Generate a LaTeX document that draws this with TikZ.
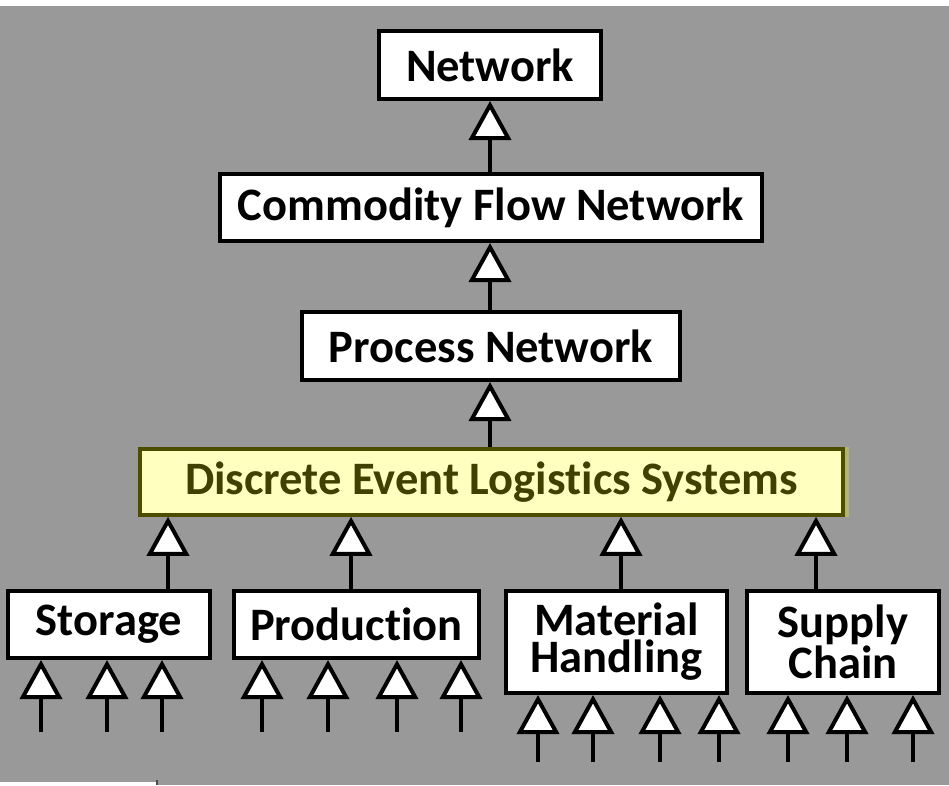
\documentclass[tikz,border=0pt]{standalone}
\usepackage{fontspec}
\setmainfont[Ligatures=NoCommon]{Carlito}
\usetikzlibrary{arrows.meta}
\definecolor{bggray}{HTML}{999999}
\definecolor{delsfill}{HTML}{FFFFC0}
\definecolor{delsline}{HTML}{4D4D00}
\definecolor{delsedge}{HTML}{B4B46E}
\definecolor{delstext}{HTML}{404000}
\begin{document}
\begin{tikzpicture}[x=1pt,y=-1pt,
  box/.style={draw=black, fill=white, line width=4pt, inner sep=0pt,
    align=center, font=\bfseries\fontsize{46.5}{37}\selectfont},
  conn/.style={line width=4pt,
    -{Triangle[width=42pt,length=39pt,fill=white,line width=4pt]}}]
% canvas
\useasboundingbox (0,0) rectangle (949,785);
\fill[white] (0,0) rectangle (949,785);
\fill[bggray] (0,6) rectangle (949,785);
\fill[white] (0,781.5) rectangle (156,784.5);
\draw[line width=1.2pt, black!70] (157,780) -- (157,785);

% hierarchy boxes
\node[box, minimum width=222pt, minimum height=68pt] (net) at (490,65) {Network};
\node[box, minimum width=542pt, minimum height=67pt] (cfn) at (491,207.5) {Commodity Flow Network};
\node[box, minimum width=378pt, minimum height=68pt] (pn) at (491,346) {Process Network};
\fill[delsedge] (844,447) rectangle (849,517);
\node[box, draw=delsline, fill=delsfill, text=delstext, line width=3.5pt,
  minimum width=703pt, minimum height=66pt] (dels) at (491.5,482) {Discrete Event Logistics Systems};

% subclass boxes
\node[box, minimum width=202pt, minimum height=67pt] (stor) at (109,624.5) {Storage};
\node[box, minimum width=245pt, minimum height=67pt] (prod) at (356.5,624.5) {Production};
\node[box, minimum width=221pt, minimum height=102pt] (mh) at (616.5,642) {Material\\Handling};
\node[box, minimum width=192pt, minimum height=102pt] (sc) at (843,642) {Supply\\Chain};

% generalisation arrows along the spine
\draw[conn] (cfn.north -| 490,0) -- (net.south -| 490,0);
\draw[conn] (pn.north -| 490,0) -- (cfn.south -| 490,0);
\draw[conn] (dels.north -| 490,0) -- (pn.south -| 490,0);

% subclasses to DELS
\draw[conn] (stor.north -| 168,0) -- (dels.south -| 168,0);
\draw[conn] (prod.north -| 351,0) -- (dels.south -| 351,0);
\draw[conn] (mh.north -| 621,0) -- (dels.south -| 621,0);
\draw[conn] (sc.north -| 816,0) -- (dels.south -| 816,0);

% open-ended inputs below each subclass
\foreach \i/\x in {1/41,2/107,3/162}{
  \coordinate (s\i) at (\x,732);
  \draw[conn] (s\i) -- (s\i |- stor.south);
}
\foreach \i/\x in {1/262,2/328,3/397,4/461}{
  \coordinate (p\i) at (\x,732);
  \draw[conn] (p\i) -- (p\i |- prod.south);
}
\foreach \i/\x in {1/538,2/593,3/660,4/719}{
  \coordinate (m\i) at (\x,762);
  \draw[conn] (m\i) -- (m\i |- mh.south);
}
\foreach \i/\x in {1/788,2/847,3/913}{
  \coordinate (c\i) at (\x,762);
  \draw[conn] (c\i) -- (c\i |- sc.south);
}
\end{tikzpicture}
\end{document}
